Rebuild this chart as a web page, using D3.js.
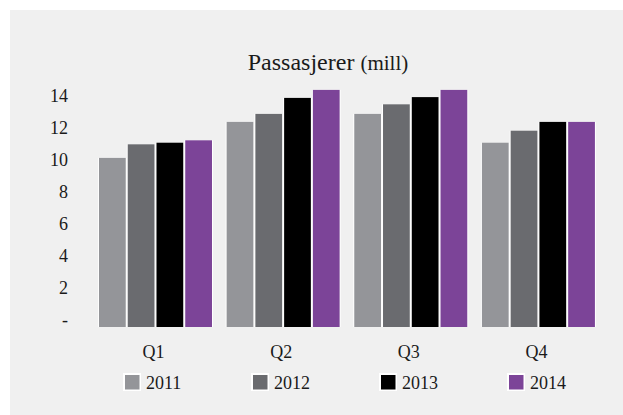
<!DOCTYPE html>
<html>
<meta charset="utf-8">
<style>
  body { margin: 0; background: #fff; }
</style>

<!-- Load d3.js -->
<script src="https://d3js.org/d3.v7.min.js"></script>

<div id="my_dataviz"></div>

<script>

// quarters and years
var quarters = ["Q1", "Q2", "Q3", "Q4"];
var years = ["2011", "2012", "2013", "2014"];

// passengers (mill) per quarter, one array per year
var v2011 = [10.1, 12.35, 12.85, 11.05];
var v2012 = [10.95, 12.85, 13.45, 11.8];
var v2013 = [11.05, 13.85, 13.9, 12.35];
var v2014 = [11.2, 14.35, 14.35, 12.35];

// y axis ticks
var yTicks = [0, 2, 4, 6, 8, 10, 12, 14];

var colors = ["#949599", "#6a6b6f", "#000000", "#7c4498"];

var series = [v2011, v2012, v2013, v2014];

var FONT = "'Liberation Serif', Tinos, 'DejaVu Serif', 'Times New Roman', Times, serif";

// rows per quarter
var data = quarters.map(function(q, i) {
  return {
    quarter: q,
    values: years.map(function(y, j) { return {year: y, value: series[j][i]}; })
  };
});

var W = 623, H = 415;

var svg = d3.select("#my_dataviz")
  .append("svg")
    .attr("width", W)
    .attr("height", H)
    .style("font-family", FONT);

// light panel
svg.append("rect")
  .attr("x", 10)
  .attr("y", 10)
  .attr("width", W - 10)
  .attr("height", H - 10)
  .attr("fill", "#f0f0f0");

// title
var title = svg.append("text")
  .attr("x", 328)
  .attr("y", 70)
  .attr("text-anchor", "middle")
  .style("font-family", FONT)
  .attr("fill", "#1a1a1a");
title.append("tspan").attr("font-size", "24px").text("Passasjerer ");
title.append("tspan").attr("font-size", "21px").text("(mill)");

// scales
var x0 = d3.scaleBand()
  .domain(quarters)
  .range([91.6, 602.3])
  .paddingInner(0.099)
  .paddingOuter(0.05);

var x1 = d3.scaleBand()
  .domain(years)
  .range([0, x0.bandwidth()]);

var y = d3.scaleLinear()
  .domain([0, 14])
  .range([319.5, 95.5]);

var plotBottom = 327;

// Y axis (labels only)
var yAxis = svg.append("g")
  .attr("transform", "translate(68,0)")
  .call(d3.axisLeft(y)
    .tickValues(yTicks)
    .tickSize(0)
    .tickPadding(0)
    .tickFormat(function(d) { return d === 0 ? "-" : d; }));
yAxis.attr("font-family", null).style("font-family", FONT);
yAxis.select(".domain").remove();
yAxis.selectAll("text")
  .attr("font-size", "18px")
  .attr("fill", "#1a1a1a");

// bars
var groups = svg.selectAll("g.quarter")
  .data(data)
  .enter()
  .append("g")
    .attr("class", "quarter")
    .attr("transform", function(d) { return "translate(" + x0(d.quarter) + ",0)"; });

// white separators behind each bar
groups.selectAll("rect.sep")
  .data(function(d) { return d.values; })
  .enter()
  .append("rect")
    .attr("class", "sep")
    .attr("x", function(d) { return x1(d.year); })
    .attr("y", function(d) { return y(d.value); })
    .attr("width", x1.bandwidth())
    .attr("height", function(d) { return plotBottom - y(d.value); })
    .attr("fill", "#ffffff");

groups.selectAll("rect.bar")
  .data(function(d) { return d.values; })
  .enter()
  .append("rect")
    .attr("class", "bar")
    .attr("x", function(d) { return x1(d.year) + 1; })
    .attr("y", function(d) { return y(d.value); })
    .attr("width", x1.bandwidth() - 2)
    .attr("height", function(d) { return plotBottom - y(d.value); })
    .attr("fill", function(d, i) { return colors[i]; });

// X axis (labels only)
var xAxis = svg.append("g")
  .attr("transform", "translate(-2," + plotBottom + ")")
  .call(d3.axisBottom(x0).tickSize(0).tickPadding(0));
xAxis.attr("font-family", null).style("font-family", FONT);
xAxis.select(".domain").remove();
xAxis.selectAll("text")
  .attr("font-size", "18px")
  .attr("fill", "#1a1a1a")
  .attr("dy", null)
  .attr("y", 31);

// legend
var legend = svg.selectAll("g.legend")
  .data(years)
  .enter()
  .append("g")
    .attr("class", "legend")
    .attr("transform", function(d, i) { return "translate(" + (123 + i * 128) + ",373)"; });

legend.append("rect")
  .attr("width", 18)
  .attr("height", 18)
  .attr("fill", "#ffffff");

legend.append("rect")
  .attr("x", 2)
  .attr("y", 2)
  .attr("width", 14.5)
  .attr("height", 14.5)
  .attr("fill", function(d, i) { return colors[i]; });

legend.append("text")
  .attr("x", 23)
  .attr("y", 16)
  .attr("font-size", "18px")
  .attr("fill", "#1a1a1a")
  .style("font-family", FONT)
  .text(function(d) { return d; });

</script>
</html>
